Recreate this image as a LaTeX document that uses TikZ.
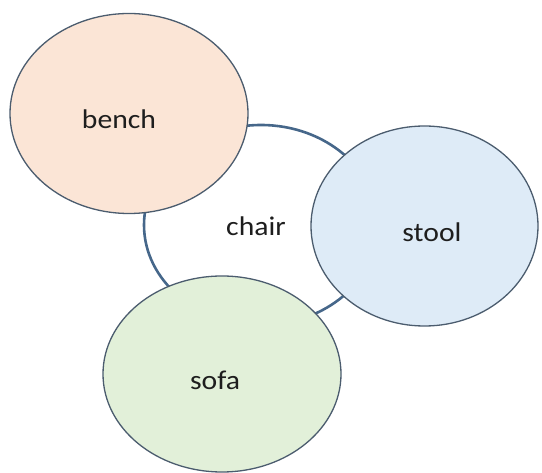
\documentclass[tikz,border=0pt]{standalone}
\usepackage{fontspec}
\setmainfont{Carlito}
\usetikzlibrary{shapes.geometric}
\definecolor{benchfill}{HTML}{FBE5D6}
\definecolor{stoolfill}{HTML}{DEEBF7}
\definecolor{sofafill}{HTML}{E2F0D9}
\definecolor{ringline}{HTML}{46678A}
\definecolor{blobline}{HTML}{4B5C6E}
\definecolor{wordcol}{HTML}{1E1E1E}
\tikzset{
  ring/.style={ellipse, draw=ringline, line width=2.6pt, fill=white, inner sep=0pt},
  blob/.style={ellipse, draw=blobline, line width=1.3pt, inner sep=0pt},
  word/.style={anchor=base, inner sep=0pt, text=wordcol,
    font=\fontsize{27}{30}\selectfont}
}
\begin{document}
\begin{tikzpicture}[x=1pt, y=-1pt]
  \useasboundingbox (0,0) rectangle (542,473);
  % centre ring
  \node[ring, minimum width=234pt, minimum height=200pt] (chair) at (261,225) {};
  % outer ellipses
  \node[blob, fill=benchfill, minimum width=238pt, minimum height=200pt] (bench) at (129,113.5) {};
  \node[blob, fill=stoolfill, minimum width=227pt, minimum height=200pt] (stool) at (424.5,226) {};
  \node[blob, fill=sofafill, minimum width=238pt, minimum height=196pt] (sofa) at (222,374) {};
  % labels
  \node[word] (tbench) at (119,129) {\scalebox{1.1}[1]{bench}};
  \node[word] (tchair) at (256,236) {\scalebox{1.1}[1]{chair}};
  \node[word] (tstool) at (432,242) {\scalebox{1.1}[1]{stool}};
  \node[word] (tsofa) at (215,390) {\scalebox{1.1}[1]{sofa}};
\end{tikzpicture}
\end{document}
